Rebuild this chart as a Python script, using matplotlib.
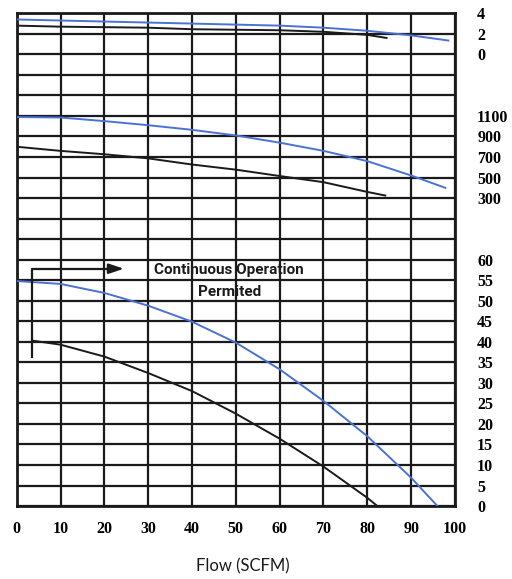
import matplotlib
matplotlib.use("Agg")
import matplotlib.pyplot as plt
import numpy as np

# flow axis
flow_ticks = [0, 10, 20, 30, 40, 50, 60, 70, 80, 90, 100]

# top band (scale 0..4)
top_ticks = [0, 2, 4]
top_blue_x = [0, 10, 20, 30, 40, 50, 60, 70, 80, 90, 98.5]
top_blue_y = [3.4, 3.3, 3.2, 3.1, 3.0, 2.9, 2.8, 2.6, 2.3, 1.85, 1.35]
top_black_x = [0, 10, 20, 30, 40, 50, 60, 70, 80, 84.4]
top_black_y = [2.8, 2.7, 2.65, 2.6, 2.45, 2.4, 2.35, 2.2, 1.9, 1.6]

# middle band (scale 300..1100)
mid_ticks = [300, 500, 700, 900, 1100]
mid_blue_x = [0, 10, 20, 30, 40, 50, 60, 70, 80, 90, 97.8]
mid_blue_y = [1090, 1085, 1050, 1010, 965, 910, 840, 760, 660, 520, 400]
mid_black_x = [0, 10, 20, 30, 40, 50, 60, 70, 80, 84.1]
mid_black_y = [800, 760, 727, 687, 627, 577, 515, 455, 360, 325]

# lower band (scale 0..60)
low_ticks = [0, 5, 10, 15, 20, 25, 30, 35, 40, 45, 50, 55, 60]
low_blue_x = [0, 10, 20, 30, 40, 50, 60, 70, 80, 90, 96]
low_blue_y = [54.8, 54.1, 51.9, 48.8, 44.9, 39.8, 33.3, 25.6, 17.0, 6.9, 0]
low_black_x = [3.5, 10, 20, 30, 40, 50, 60, 70, 80, 82.3]
low_black_y = [40.3, 39.3, 36.4, 32.4, 28.0, 22.5, 16.4, 9.6, 2.0, 0]

# "continuous operation" marker
marker_x = [3.6, 3.6, 21]
marker_y = [36.4, 57.8, 57.8]

BLUE = "#4a72d4"
BLACK = "#1a1a1a"
tick_font = dict(family="Liberation Serif", weight="bold", size=11.5)

fig = plt.figure(figsize=(5.12, 5.79), dpi=100)
ax = fig.add_axes([0.0326, 0.126, 0.856, 0.851])

# grid in plain row units: 24 rows
ax.set_xlim(0, 100)
ax.set_ylim(0, 24)
ax.set_xticks(flow_ticks)
ax.set_yticks(np.arange(0, 25))
ax.grid(True, color=BLACK, linewidth=1.6)
for s in ax.spines.values():
    s.set_linewidth(2)
    s.set_color(BLACK)


def band_axis(lo, hi, ticks):
    t = ax.twinx()
    t.set_ylim(lo, hi)
    t.set_yticks(ticks)
    t.set_yticklabels([str(v) for v in ticks], **tick_font)
    t.tick_params(axis="y", which="both", left=False, length=0, pad=16)
    for s in t.spines.values():
        s.set_visible(False)
    return t


ax_top = band_axis(-44, 4, top_ticks)
ax_mid = band_axis(-2700, 2100, mid_ticks)
ax_low = band_axis(0, 120, low_ticks)

# twinx switches the main left ticks back on, so turn them off afterwards
ax.tick_params(axis="y", which="both", left=False, right=False,
               labelleft=False, length=0)
ax.tick_params(axis="x", length=0, pad=11)
for lab in ax.get_xticklabels():
    lab.set_fontproperties(matplotlib.font_manager.FontProperties(**tick_font))

ax_top.plot(top_blue_x, top_blue_y, color=BLUE, lw=1.4)
ax_top.plot(top_black_x, top_black_y, color=BLACK, lw=1.4)
ax_mid.plot(mid_blue_x, mid_blue_y, color=BLUE, lw=1.4)
ax_mid.plot(mid_black_x, mid_black_y, color=BLACK, lw=1.4)
ax_low.plot(low_blue_x, low_blue_y, color=BLUE, lw=1.4)
ax_low.plot(low_black_x, low_black_y, color=BLACK, lw=1.4)

ax_low.plot(marker_x, marker_y, color=BLACK, lw=1.6)
ax_low.annotate("", xy=(25.1, 57.8), xytext=(20, 57.8),
                arrowprops=dict(arrowstyle="-|>,head_length=0.9,head_width=0.3",
                                color=BLACK, lw=1.6))
ax_low.text(48.5, 57.4, "Continuous Operation", ha="center", va="center",
            family="Roboto", weight="bold", size=11, color=BLACK)
ax_low.text(48.5, 52.2, "Permited", ha="center", va="center",
            family="Roboto", weight="bold", size=11, color=BLACK)

fig.text(243 / 512, 1 - 566.7 / 579, "Flow (SCFM)", ha="center", va="center",
         family="Lato", size=12, color=BLACK)

fig.savefig("out.png", dpi=100)
